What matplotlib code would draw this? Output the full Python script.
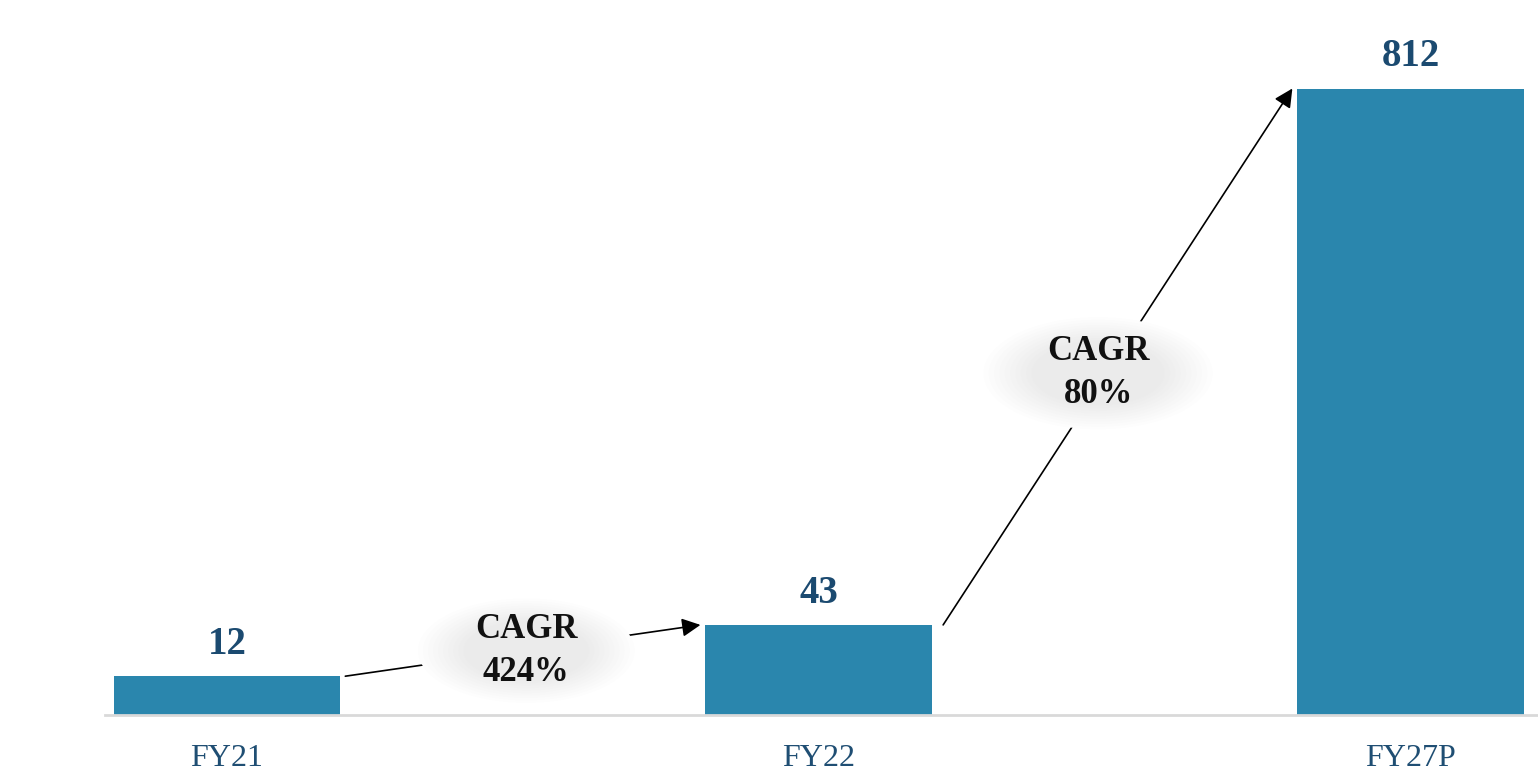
import numpy as np
import matplotlib
matplotlib.use("Agg")
import matplotlib.pyplot as plt
from matplotlib.patches import Ellipse

# data
years = ["FY21", "FY22", "FY27P"]
values = [12, 43, 812]
cagr_labels = ["CAGR\n424%", "CAGR\n80%"]

bar_color = "#2a86ad"
value_color = "#1b4a70"
label_color = "#1f4e73"

plt.rcParams["font.family"] = ["Liberation Serif", "DejaVu Serif"]

fig = plt.figure(figsize=(15.38, 7.73), dpi=100)
ax = fig.add_axes([105 / 1538, 58 / 773, 1 - 105 / 1538, 715 / 773])

x = np.arange(len(years))
ax.bar(x, values, width=0.383, color=bar_color, zorder=2)

# the source chart is not drawn to a linear scale
ax.set_yscale("function", functions=(lambda v: np.sign(v) * np.abs(v) ** 0.66,
                                     lambda v: np.sign(v) * np.abs(v) ** (1 / 0.66)))
ax.set_ylim(0, 992)
ax.set_xlim(-0.206, 2.215)

# value labels
for xi, v in zip(x, values):
    ax.annotate(str(v), xy=(xi, v), xytext=(0, 16), textcoords="offset points",
                ha="center", va="baseline", fontsize=28, fontweight="bold",
                color=value_color)

# axes styling
for s in ["top", "right", "left"]:
    ax.spines[s].set_visible(False)
ax.spines["bottom"].set_color("#d9d9d9")
ax.spines["bottom"].set_linewidth(2)
ax.set_yticks([])
ax.yaxis.set_minor_locator(matplotlib.ticker.NullLocator())
ax.set_xticks(x)
ax.set_xticklabels(years, fontsize=23, color=label_color)
ax.tick_params(axis="x", length=0, pad=21)

# growth arrows from bar top to next bar top
arrow_kw = dict(arrowstyle="-|>", color="black", lw=1.2, mutation_scale=28,
                shrinkA=0, shrinkB=0)
ax.annotate("", xy=(1 - 0.2, values[1]), xytext=(0.2, values[0]),
            textcoords="data", arrowprops=arrow_kw, zorder=3,
            annotation_clip=False)
ax.annotate("", xy=(2 - 0.2, values[2]), xytext=(1 + 0.21, values[1]),
            textcoords="data", arrowprops=arrow_kw, zorder=3,
            annotation_clip=False)

# soft grey bubbles behind the CAGR labels
bubbles = [(0.294, 0.09, 0.14, 0.135), (0.693, 0.478, 0.148, 0.145)]
for (bx, by, bw, bh), txt in zip(bubbles, cagr_labels):
    ax.add_patch(Ellipse((bx, by), bw * 1.08, bh * 1.08, transform=ax.transAxes,
                         facecolor="white", edgecolor="none", zorder=4))
    for k in range(10):
        f = 1.08 - k * 0.05
        ax.add_patch(Ellipse((bx, by), bw * f, bh * f, transform=ax.transAxes,
                             facecolor="#d8d8d8", edgecolor="none", alpha=0.05,
                             zorder=4))
    ax.text(bx, by, txt, transform=ax.transAxes, ha="center", va="center",
            fontsize=25, fontweight="bold", color="#111111", linespacing=1.4,
            zorder=5)

fig.savefig("out.png", dpi=100, facecolor="white")
